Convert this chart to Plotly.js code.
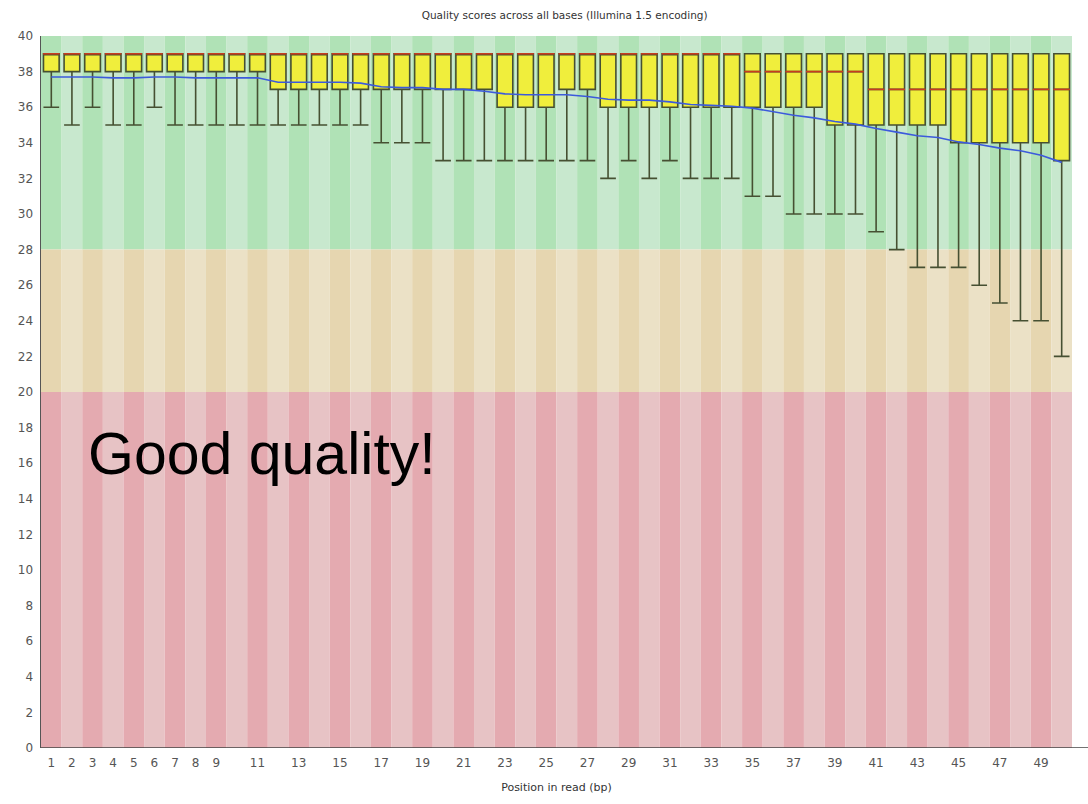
<!DOCTYPE html>
<html>
<head>
<meta charset="utf-8">
<script src="https://cdn.plot.ly/plotly-3.0.1.min.js"></script>
<style>html,body{margin:0;padding:0;background:#fff;}#chart{width:1088px;height:804px;}</style>
</head>
<body>
<div id="chart"></div>
<script>
const positions = [1,2,3,4,5,6,7,8,9,10,11,12,13,14,15,16,17,18,19,20,21,22,23,24,25,26,27,28,29,30,31,32,33,34,35,36,37,38,39,40,41,42,43,44,45,46,47,48,49,50];
const upperWhisker = [39,39,39,39,39,39,39,39,39,39,39,39,39,39,39,39,39,39,39,39,39,39,39,39,39,39,39,39,39,39,39,39,39,39,39,39,39,39,39,39,39,39,39,39,39,39,39,39,39,39];
const q3 = [39,39,39,39,39,39,39,39,39,39,39,39,39,39,39,39,39,39,39,39,39,39,39,39,39,39,39,39,39,39,39,39,39,39,39,39,39,39,39,39,39,39,39,39,39,39,39,39,39,39];
const medians = [39,39,39,39,39,39,39,39,39,39,39,39,39,39,39,39,39,39,39,39,39,39,39,39,39,39,39,39,39,39,39,39,39,39,38,38,38,38,38,38,37,37,37,37,37,37,37,37,37,37];
const q1 = [38,38,38,38,38,38,38,38,38,38,38,37,37,37,37,37,37,37,37,37,37,37,36,36,36,37,37,36,36,36,36,36,36,36,36,36,36,36,35,35,35,35,35,35,34,34,34,34,34,33];
const lowerWhisker = [36,35,36,35,35,36,35,35,35,35,35,35,35,35,35,35,34,34,34,33,33,33,33,33,33,33,33,32,33,32,33,32,32,32,31,31,30,30,30,30,29,28,27,27,27,26,25,24,24,22];
const means = [37.7,37.7,37.7,37.65,37.65,37.7,37.7,37.65,37.65,37.65,37.65,37.4,37.4,37.4,37.4,37.35,37.15,37.1,37.1,37.0,37.0,36.9,36.75,36.7,36.7,36.7,36.6,36.45,36.4,36.4,36.3,36.15,36.1,36.05,35.95,35.75,35.55,35.4,35.2,35.05,34.8,34.6,34.4,34.3,34.05,33.9,33.7,33.55,33.3,32.9];
const tickVals = [1,2,3,4,5,6,7,8,9,11,13,15,17,19,21,23,25,27,29,31,33,35,37,39,41,43,45,47,49];
const zones = [
  {base: 28, top: 40, dark: 'rgb(176,226,182)', light: 'rgb(200,232,206)'},
  {base: 20, top: 28, dark: 'rgb(230,214,176)', light: 'rgb(235,225,198)'},
  {base: 0,  top: 20, dark: 'rgb(228,170,176)', light: 'rgb(231,195,197)'}
];

const traces = [];
zones.forEach(z => {
  traces.push({
    type: 'bar', x: positions,
    y: positions.map(() => z.top - z.base),
    base: positions.map(() => z.base),
    width: 1,
    marker: {color: positions.map(p => p % 2 === 1 ? z.dark : z.light), line: {width: 0}},
    hoverinfo: 'skip', showlegend: false
  });
});
traces.push({
  type: 'box', x: positions,
  q1: q1, median: medians, q3: q3,
  lowerfence: lowerWhisker, upperfence: upperWhisker,
  width: 0.76, whiskerwidth: 1,
  fillcolor: 'rgb(240,238,60)',
  line: {color: 'rgb(70,80,50)', width: 1.6},
  showlegend: false, hoverinfo: 'skip'
});
traces.push({
  type: 'scatter', mode: 'markers', x: positions, y: medians,
  marker: {symbol: 'line-ew', size: 11.8, line: {color: 'rgb(200,60,30)', width: 1.6}},
  showlegend: false, hoverinfo: 'skip'
});
traces.push({
  type: 'scatter', mode: 'lines', x: positions, y: means,
  line: {color: 'rgb(60,90,220)', width: 1.6},
  showlegend: false, hoverinfo: 'skip'
});

const layout = {
  width: 1088, height: 804,
  margin: {l: 41, r: 16, t: 36, b: 56},
  paper_bgcolor: '#fff', plot_bgcolor: '#fff',
  barmode: 'overlay', boxmode: 'overlay',
  font: {family: 'DejaVu Sans, sans-serif', size: 11, color: '#444'},
  title: {text: 'Quality scores across all bases (Illumina 1.5 encoding)', x: 0.519, xanchor: 'center', y: 0.981, yanchor: 'middle', font: {size: 10.5, color: '#333'}},
  xaxis: {
    range: [0.5, 50.5], tickmode: 'array', tickvals: tickVals, ticktext: tickVals.map(String),
    ticks: '', showgrid: false, zeroline: false, showline: false,
    tickfont: {size: 12, color: '#555'}, ticklabelstandoff: 6,
    title: {text: 'Position in read (bp)', font: {size: 11, color: '#333'}, standoff: 14}
  },
  yaxis: {
    range: [0, 40], dtick: 2, tick0: 0, ticks: '', showgrid: false, zeroline: false,
    showline: true, linecolor: '#555', linewidth: 1.5,
    tickfont: {size: 12, color: '#555'}, ticklabelstandoff: 4
  },
  shapes: [
    {type: 'line', xref: 'paper', yref: 'y', x0: 0, x1: 1.02, y0: 0, y1: 0, line: {color: '#444', width: 1.5}}
  ],
  annotations: [
    {text: 'Good quality!', xref: 'x', yref: 'y', x: 2.68, y: 16.5, xanchor: 'left', yanchor: 'middle', showarrow: false,
     font: {family: 'Liberation Sans, Arial, sans-serif', size: 59, color: '#000'}}
  ]
};

Plotly.newPlot('chart', traces, layout, {displayModeBar: false, staticPlot: true});
</script>
</body>
</html>
